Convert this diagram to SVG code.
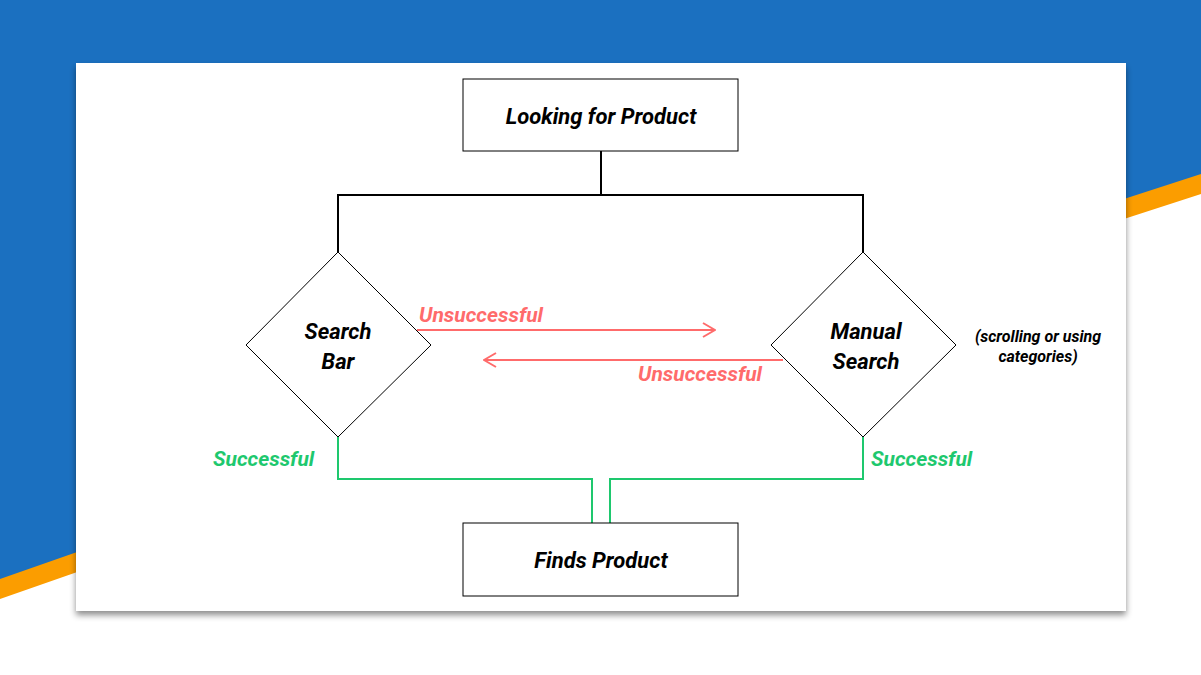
<svg xmlns="http://www.w3.org/2000/svg" width="1201" height="675" viewBox="0 0 1201 675">
<defs>
<filter id="sh" x="-5%" y="-5%" width="110%" height="115%"><feDropShadow dx="0" dy="4" stdDeviation="3" flood-color="#000" flood-opacity="0.45"/></filter>
<marker id="ar" markerWidth="14" markerHeight="16" refX="13" refY="8" orient="auto" markerUnits="userSpaceOnUse"><path d="M1,1 L13,8 L1,15" fill="none" stroke="#ff6b6b" stroke-width="2"/></marker>
</defs>
<style>
.box{fill:#fff;stroke:#000;stroke-width:1}
.t{font-family:Roboto,"Liberation Sans",sans-serif;font-weight:bold;font-style:italic;fill:#000;text-anchor:middle}
.blk{fill:none;stroke:#000;stroke-width:2}
.grn{fill:none;stroke:#1ec86e;stroke-width:2}
.red{fill:none;stroke:#ff6b6b;stroke-width:2}
.gl{font-family:Roboto,"Liberation Sans",sans-serif;font-weight:bold;font-style:italic;font-size:21px;fill:#1ec86e}
.rl{font-family:Roboto,"Liberation Sans",sans-serif;font-weight:bold;font-style:italic;font-size:21px;fill:#ff6b6b}
</style>
<rect width="1201" height="675" fill="#fff"/>
<polygon points="0,0 1201,0 1201,194 600,389 0,599" fill="#fb9d00"/>
<polygon points="0,0 1201,0 1201,174 600,369 0,579" fill="#1b70c0"/>
<rect x="76" y="63" width="1050" height="548" fill="#fff" filter="url(#sh)"/>
<g id="connectors">
<path class="blk" d="M601,151 V195 M338,252 V195 H863 V252"/>
<path class="grn" d="M338,437 V479 H592 V523 M863,437 V479 H610 V523"/>
<path class="red" d="M417,330 H715" marker-end="url(#ar)"/>
<path class="red" d="M783,360 H484" marker-end="url(#ar)"/>
<text class="rl" x="419" y="322">Unsuccessful</text>
<text class="rl" x="638" y="381">Unsuccessful</text>
<text class="gl" x="213" y="466">Successful</text>
<text class="gl" x="871" y="466">Successful</text>
</g>
<g id="n1"><rect class="box" x="463" y="79" width="275" height="72"/><text class="t" x="601" y="124" font-size="22">Looking for Product</text></g>
<g id="n2"><polygon class="box" points="338,252 431,345 338,437 246,345"/><text class="t" x="338" y="339" font-size="22">Search</text><text class="t" x="338" y="369" font-size="22">Bar</text></g>
<g id="n3"><polygon class="box" points="863,252 956,345 863,437 771,345"/><text class="t" x="866" y="339" font-size="22">Manual</text><text class="t" x="866" y="369" font-size="22">Search</text></g>
<g id="n4"><text class="t" x="1038" y="342" font-size="16">(scrolling or using</text><text class="t" x="1038" y="362" font-size="16">categories)</text></g>
<g id="n5"><rect class="box" x="463" y="523" width="275" height="73"/><text class="t" x="601" y="568" font-size="22">Finds Product</text></g>
</svg>
